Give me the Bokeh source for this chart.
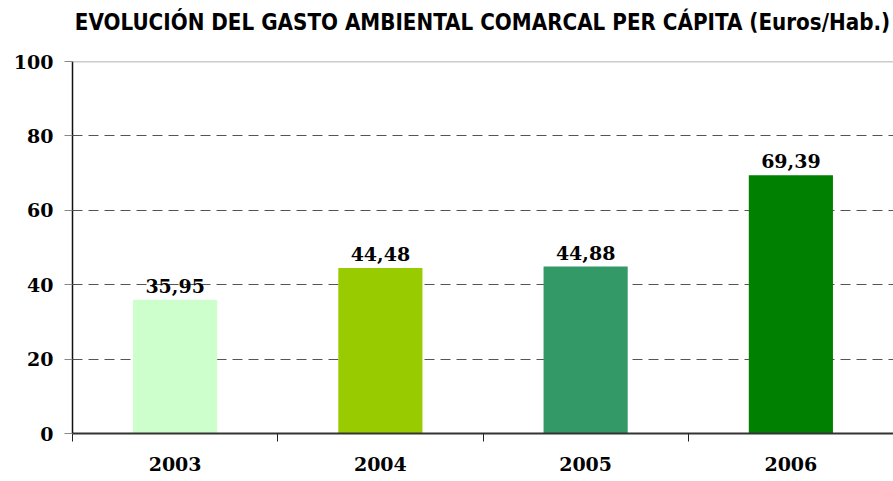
from bokeh.plotting import figure
from bokeh.models import ColumnDataSource, FixedTicker, Range1d, Span, Div
from bokeh.layouts import column
from bokeh.core.properties import value
from bokeh.embed import file_html
from bokeh.resources import INLINE

title = "EVOLUCIÓN DEL GASTO AMBIENTAL COMARCAL PER CÁPITA (Euros/Hab.)"
years = ["2003", "2004", "2005", "2006"]
gasto = [35.95, 44.48, 44.88, 69.39]
colors = ["#CCFFCC", "#99CC00", "#339966", "#008000"]
y_ticks = [0, 20, 40, 60, 80, 100]

xpos = [i + 0.5 for i in range(len(years))]
labels = [f"{v:.2f}".replace(".", ",") for v in gasto]
src = ColumnDataSource(dict(x=xpos, top=gasto, color=colors, label=labels))

W, H = 893, 481
BL, BT, BB = 72, 61, 48
DIV_H = 40

div = Div(text=title, width=W - BL, height=DIV_H, margin=(0, 0, 0, BL),
          styles={"font-family": "'DejaVu Sans Condensed', 'DejaVu Sans', sans-serif",
                  "font-weight": "bold", "font-size": "22.2px", "line-height": "44px",
                  "text-align": "center", "color": "#000000", "white-space": "nowrap"})

p = figure(width=W, height=H - DIV_H, output_backend="svg", toolbar_location=None,
           x_range=Range1d(0, len(years)), y_range=Range1d(0, 100),
           min_border_left=BL, min_border_right=0, min_border_top=BT - DIV_H, min_border_bottom=BB)

p.outline_line_color = None
p.background_fill_color = "white"

p.vbar(x="x", top="top", width=0.41, fill_color="color", line_color=None, source=src)
p.text(x="x", y="top", text="label", source=src, text_align="center", text_baseline="bottom",
       y_offset=-7, text_font=value("DejaVu Serif"), text_font_style="bold",
       text_font_size="19px", text_color="#000000")

# x axis
xt = FixedTicker(ticks=xpos, minor_ticks=list(range(len(years) + 1)))
p.xaxis.ticker = xt
p.xaxis.major_label_overrides = {x: y for x, y in zip(xpos, years)}
p.xaxis.major_tick_out = 0
p.xaxis.major_tick_in = 0
p.xaxis.minor_tick_out = 8
p.xaxis.minor_tick_in = 0
p.xaxis.minor_tick_line_color = "#222222"
p.xaxis.axis_line_color = "#333333"
p.xaxis.axis_line_width = 2
p.xaxis.major_label_standoff = 15
p.xaxis.major_label_text_font = "DejaVu Serif"
p.xaxis.major_label_text_font_style = "bold"
p.xaxis.major_label_text_font_size = "19px"
p.xaxis.major_label_text_color = "#000000"

# y axis
p.yaxis.ticker = FixedTicker(ticks=y_ticks)
p.yaxis.major_tick_out = 8
p.yaxis.major_tick_in = 0
p.yaxis.minor_tick_out = 0
p.yaxis.minor_tick_in = 0
p.yaxis.major_tick_line_color = "#888888"
p.yaxis.axis_line_color = "#111111"
p.yaxis.axis_line_width = 1.5
p.yaxis.major_label_standoff = 11
p.yaxis.major_label_text_font = "DejaVu Serif"
p.yaxis.major_label_text_font_style = "bold"
p.yaxis.major_label_text_font_size = "19px"
p.yaxis.major_label_text_color = "#000000"

p.xgrid.grid_line_color = None
p.ygrid.ticker = FixedTicker(ticks=y_ticks)
p.ygrid.grid_line_color = "#555555"
p.ygrid.grid_line_dash = "10 6"
p.ygrid.grid_line_width = 1

p.add_layout(Span(location=y_ticks[-1], dimension="width", line_color="#999999", line_width=1.5), "below")

layout = column(div, p, spacing=0)
open("out.html", "w").write(file_html(layout, INLINE))
